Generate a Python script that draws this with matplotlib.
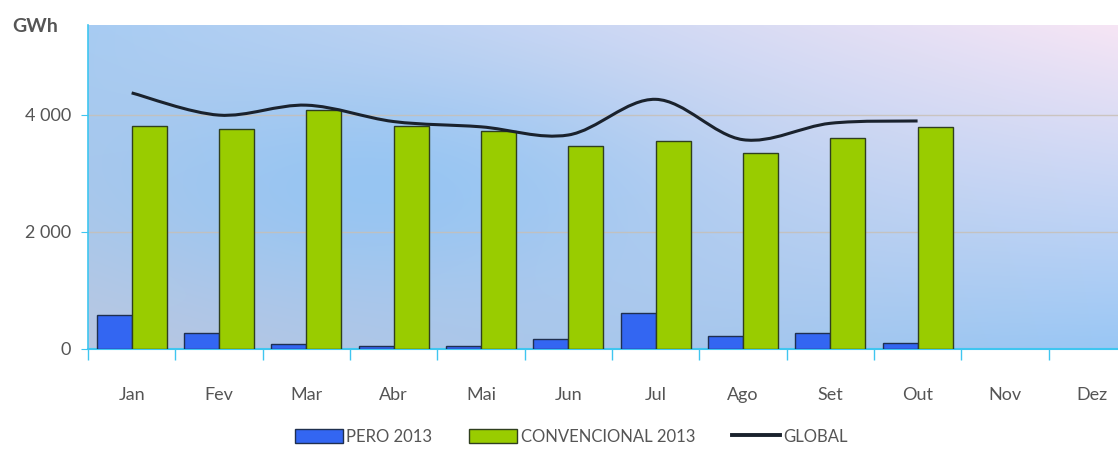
import numpy as np
import matplotlib
matplotlib.use("Agg")
import matplotlib.pyplot as plt
from matplotlib.path import Path
from matplotlib.patches import PathPatch
from matplotlib.lines import Line2D
import matplotlib.ticker as mticker

# === Data (GWh, 2013) ===
months = ['Jan', 'Fev', 'Mar', 'Abr', 'Mai', 'Jun', 'Jul', 'Ago', 'Set', 'Out', 'Nov', 'Dez']
pero = [580, 270, 85, 45, 40, 170, 600, 210, 260, 90]
convencional = [3800, 3745, 4085, 3810, 3710, 3470, 3550, 3335, 3605, 3780]
global_ = [4370, 3990, 4160, 3880, 3790, 3650, 4260, 3570, 3850, 3890]
yticks = [0, 2000, 4000]

BLUE = '#3366f2'
GREEN = '#99cc00'
CYAN = '#3fc6f0'
TXT = '#555555'

plt.rcParams['font.family'] = ['Lato', 'DejaVu Sans']

fig = plt.figure(figsize=(11.18, 4.55), dpi=100)
ax = fig.add_axes([0.0787, 0.234, 0.9373, 0.711])

# --- gradient background ---
ny, nx = 120, 240
yy, xx = np.mgrid[0:1:ny * 1j, 0:1:nx * 1j]   # yy: 0 top -> 1 bottom
tl = np.array([0.66, 0.80, 0.95])
tr = np.array([0.97, 0.90, 0.96])
bl = np.array([0.73, 0.78, 0.88])
br = np.array([0.60, 0.78, 0.96])
xx3, yy3 = xx[..., None], yy[..., None]
bg = (tl * (1 - xx3) * (1 - yy3) + tr * xx3 * (1 - yy3)
      + bl * (1 - xx3) * yy3 + br * xx3 * yy3)
blob = np.exp(-(((xx - 0.28) / 0.28) ** 2 + ((yy - 0.5) / 0.35) ** 2))[..., None]
bg = bg * (1 - 0.7 * blob) + np.array([0.54, 0.76, 0.96]) * 0.7 * blob
ax.imshow(np.clip(bg, 0, 1), extent=[0, 1, 0, 1], transform=ax.transAxes,
          aspect='auto', zorder=0, interpolation='bilinear')

# --- bars ---
x = np.arange(len(pero))
w = 0.40
ax.bar(x - w / 2, pero, w, color=BLUE, edgecolor='#1f2f4f', linewidth=1.0, zorder=3)
ax.bar(x + w / 2, convencional, w, color=GREEN, edgecolor='#2f3f1f', linewidth=1.0, zorder=3)

# --- smoothed GLOBAL line (Catmull-Rom through monthly values) ---
pts = np.column_stack([x, global_]).astype(float)
ext = np.vstack([pts[0], pts, pts[-1]])
verts = [tuple(pts[0])]
codes = [Path.MOVETO]
for i in range(len(pts) - 1):
    p0, p1, p2, p3 = ext[i], ext[i + 1], ext[i + 2], ext[i + 3]
    c1 = p1 + (p2 - p0) / 6
    c2 = p2 - (p3 - p1) / 6
    verts += [tuple(c1), tuple(c2), tuple(p2)]
    codes += [Path.CURVE4] * 3
ax.add_patch(PathPatch(Path(verts, codes), facecolor='none', edgecolor='#1a222d',
                       linewidth=2.2, zorder=4, capstyle='butt'))

# --- axes styling ---
ax.set_xlim(-0.5, len(months) - 0.5)
ax.set_ylim(0, 5530)
for s in ['top', 'right']:
    ax.spines[s].set_visible(False)
ax.spines['left'].set_color(CYAN)
ax.spines['bottom'].set_color(CYAN)
ax.spines['left'].set_linewidth(1.2)
ax.spines['bottom'].set_linewidth(1.5)

ax.set_yticks(yticks)
ax.yaxis.set_major_formatter(mticker.FuncFormatter(lambda v, _: f'{int(v):,}'.replace(',', ' ')))
ax.tick_params(axis='y', colors=CYAN, labelcolor=TXT, labelsize=13, length=5, pad=7)
ax.grid(axis='y', color='#c8bfb4', linewidth=1.0, alpha=0.8, zorder=1)

ax.set_xticks(np.arange(-0.5, len(months), 1.0))
ax.set_xticklabels([])
ax.tick_params(axis='x', which='major', colors=CYAN, length=8, width=1.0)
ax.set_xticks(np.arange(len(months)), minor=True)
ax.set_xticklabels(months, minor=True)
ax.tick_params(axis='x', which='minor', length=0, pad=28, labelcolor=TXT, labelsize=13)

fig.text(12 / 1118, 1 - 26 / 455, 'GWh', fontsize=14, fontweight='bold', color=TXT,
         ha='left', va='center')

handles = [
    plt.Rectangle((0, 0), 1, 1, facecolor=BLUE, edgecolor='#1f2f4f', linewidth=1.0),
    plt.Rectangle((0, 0), 1, 1, facecolor=GREEN, edgecolor='#2f3f1f', linewidth=1.0),
    Line2D([0], [0], color='#1a222d', linewidth=2.8),
]
fig.legend(handles, ['PERO 2013', 'CONVENCIONAL 2013', 'GLOBAL'], ncol=3,
           loc='center', bbox_to_anchor=(0.511, 0.04), frameon=False,
           fontsize=12, labelcolor=TXT, handlelength=2.9, handleheight=0.9,
           handletextpad=0.2, columnspacing=2.2)

fig.savefig('out.png', dpi=100)
